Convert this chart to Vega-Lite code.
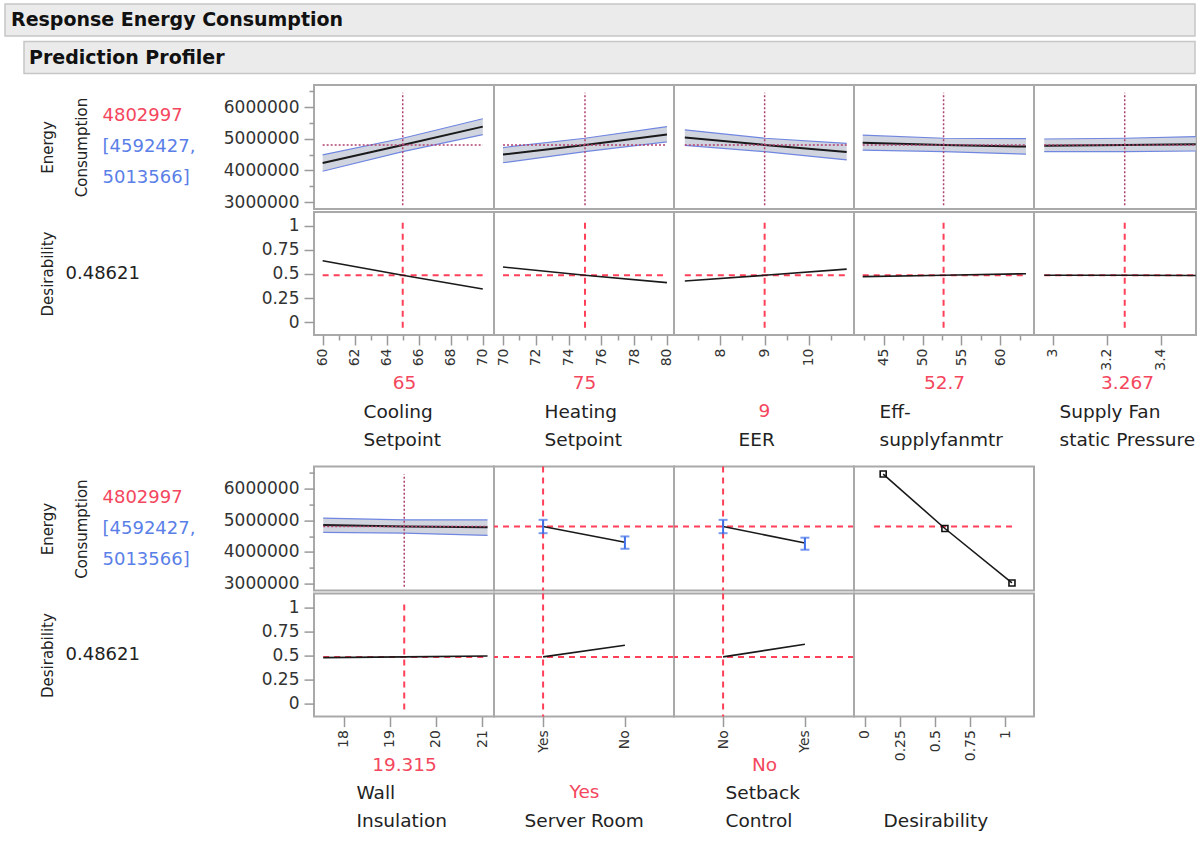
{
"$schema": "https://vega.github.io/schema/vega-lite/v6.json",
"padding": {"left": 4, "top": 3, "right": 0, "bottom": 0},
"background": "white",
"spacing": 9,
"datasets": {
 "profile": [
  {"factor": "Cooling Setpoint", "x": 60, "energy": 4230000, "lo": 3970000, "hi": 4490000, "desir": 0.637},
  {"factor": "Cooling Setpoint", "x": 65, "energy": 4802997, "lo": 4592427, "hi": 5013566, "desir": 0.48621},
  {"factor": "Cooling Setpoint", "x": 70, "energy": 5380000, "lo": 5130000, "hi": 5630000, "desir": 0.344},
  {"factor": "Heating Setpoint", "x": 70, "energy": 4500000, "lo": 4240000, "hi": 4720000, "desir": 0.572},
  {"factor": "Heating Setpoint", "x": 75, "energy": 4802997, "lo": 4592427, "hi": 5013566, "desir": 0.48621},
  {"factor": "Heating Setpoint", "x": 80, "energy": 5130000, "lo": 4900000, "hi": 5380000, "desir": 0.41},
  {"factor": "EER", "x": 7.2, "energy": 5040000, "lo": 4790000, "hi": 5280000, "desir": 0.427},
  {"factor": "EER", "x": 9, "energy": 4802997, "lo": 4592427, "hi": 5013566, "desir": 0.48621},
  {"factor": "EER", "x": 10.85, "energy": 4580000, "lo": 4330000, "hi": 4850000, "desir": 0.551},
  {"factor": "Eff-supplyfanmtr", "x": 42.3, "energy": 4870000, "lo": 4640000, "hi": 5110000, "desir": 0.472},
  {"factor": "Eff-supplyfanmtr", "x": 52.7, "energy": 4802997, "lo": 4592427, "hi": 5013566, "desir": 0.48621},
  {"factor": "Eff-supplyfanmtr", "x": 63.3, "energy": 4750000, "lo": 4510000, "hi": 5000000, "desir": 0.503},
  {"factor": "Supply Fan static Pressure", "x": 2.969, "energy": 4780000, "lo": 4590000, "hi": 4990000, "desir": 0.487},
  {"factor": "Supply Fan static Pressure", "x": 3.267, "energy": 4802997, "lo": 4592427, "hi": 5013566, "desir": 0.48621},
  {"factor": "Supply Fan static Pressure", "x": 3.53, "energy": 4825000, "lo": 4610000, "hi": 5065000, "desir": 0.484},
  {"factor": "Wall Insulation", "x": 17.56, "energy": 4850000, "lo": 4620000, "hi": 5070000, "desir": 0.479},
  {"factor": "Wall Insulation", "x": 19.315, "energy": 4802997, "lo": 4592427, "hi": 5013566, "desir": 0.48621},
  {"factor": "Wall Insulation", "x": 21.12, "energy": 4780000, "lo": 4520000, "hi": 5010000, "desir": 0.496}
 ],
 "cat": [
  {"factor": "Server Room", "level": "Yes", "energy": 4802997, "lo": 4592427, "hi": 5013566, "desir": 0.48621},
  {"factor": "Server Room", "level": "No", "energy": 4307000, "lo": 4100000, "hi": 4490000, "desir": 0.607},
  {"factor": "Setback Control", "level": "No", "energy": 4802997, "lo": 4592427, "hi": 5013566, "desir": 0.48621},
  {"factor": "Setback Control", "level": "Yes", "energy": 4280000, "lo": 4070000, "hi": 4450000, "desir": 0.618}
 ],
 "current": [
  {"factor": "Cooling Setpoint", "x": 65, "xmin": 60, "xmax": 70, "energy": 4802997, "desir": 0.48621},
  {"factor": "Heating Setpoint", "x": 75, "xmin": 70, "xmax": 80, "energy": 4802997, "desir": 0.48621},
  {"factor": "EER", "x": 9, "xmin": 7.2, "xmax": 10.85, "energy": 4802997, "desir": 0.48621},
  {"factor": "Eff-supplyfanmtr", "x": 52.7, "xmin": 42.3, "xmax": 63.3, "energy": 4802997, "desir": 0.48621},
  {"factor": "Supply Fan static Pressure", "x": 3.267, "xmin": 2.969, "xmax": 3.53, "energy": 4802997, "desir": 0.48621},
  {"factor": "Wall Insulation", "x": 19.315, "xmin": 17.56, "xmax": 21.12, "energy": 4802997, "desir": 0.48621},
  {"factor": "Server Room", "level": "Yes", "energy": 4802997, "desir": 0.48621},
  {"factor": "Setback Control", "level": "No", "energy": 4802997, "desir": 0.48621},
  {"factor": "Desirability", "xmin": 0.065, "xmax": 1.055, "energy": 4802997}
 ],
 "dfun": [
  {"d": 0.13, "energy": 6460000},
  {"d": 0.57, "energy": 4740000},
  {"d": 1.048, "energy": 3020000}
 ],
 "predlines": [
  {"line": "4802997", "kind": "Prediction"},
  {"line": "[4592427,", "kind": "Interval"},
  {"line": "5013566]", "kind": "Interval"}
 ],
 "desirline": [{"line": "0.48621"}]
},
"vconcat": [
 {"spacing": 3.5, "vconcat": [
  {"width": 1190, "height": 32, "data": {"values": [{"label": "Response Energy Consumption"}]},
   "view": {"fill": "#ebebeb", "stroke": "#c6c6c6", "strokeWidth": 1.5},
   "mark": {"type": "text", "align": "left", "baseline": "middle", "fontSize": 19, "fontWeight": "bold", "color": "#111111", "dx": 6},
   "encoding": {"text": {"field": "label"}, "x": {"datum": 0, "type": "quantitative", "scale": {"domain": [0, 1]}, "axis": null}}},
  {"bounds": "flush", "spacing": 0, "hconcat": [
   {"width": 19, "height": 32, "data": {"values": []}, "view": {"stroke": null}, "mark": "text", "encoding": {}},
   {"width": 1171, "height": 32, "data": {"values": [{"label": "Prediction Profiler"}]},
    "view": {"fill": "#ebebeb", "stroke": "#c6c6c6", "strokeWidth": 1.5},
    "mark": {"type": "text", "align": "left", "baseline": "middle", "fontSize": 19, "fontWeight": "bold", "color": "#111111", "dx": 5},
    "encoding": {"text": {"field": "label"}, "x": {"datum": 0, "type": "quantitative", "scale": {"domain": [0, 1]}, "axis": null}}}
  ]}
 ]},
 {"spacing": 14.6, "vconcat": [
  {"spacing": -2, "vconcat": [
   {"bounds": "flush", "spacing": 0, "hconcat": [
    {"width": 309, "height": 124, "view": {"stroke": null}, "data": {"name": "predlines"},
     "mark": {"type": "text", "align": "left", "baseline": "middle", "fontSize": 18, "dx": -57},
     "encoding": {"y": {"field": "line", "type": "nominal", "sort": null, "scale": {"type": "point", "padding": 1.32}, "axis": null},
      "text": {"field": "line"},
      "color": {"field": "kind", "type": "nominal", "scale": {"domain": ["Prediction", "Interval"], "range": ["#f4475e", "#5b7fe8"]}, "legend": null}}},
    {"width": 180, "height": 124, "resolve": {"axis": {"y": "independent"}}, "layer": [
     {"data": {"name": "profile"}, "transform": [{"filter": "datum.factor == 'Cooling Setpoint'"}],
      "mark": {"type": "area", "color": "#d0d4de"},
      "encoding": {"x": {"field": "x", "type": "quantitative", "scale": {"domain": [59.46, 70.7], "nice": false, "zero": false}, "axis": null},
       "y": {"field": "lo", "type": "quantitative", "scale": {"domain": [2779000, 6695000], "nice": false, "zero": false},
        "axis": {"orient": "left", "values": [3000000, 4000000, 5000000, 6000000], "format": "d", "title": ["Energy", "Consumption"], "titleX": -262, "titleY": 62}},
       "y2": {"field": "hi"}}},
     {"data": {"name": "profile"}, "transform": [{"filter": "datum.factor == 'Cooling Setpoint'"}],
      "mark": {"type": "line", "color": "#7086e0", "strokeWidth": 1.2},
      "encoding": {"x": {"field": "x", "type": "quantitative", "scale": {"domain": [59.46, 70.7], "nice": false, "zero": false}, "axis": null},
       "y": {"field": "lo", "type": "quantitative", "scale": {"domain": [2779000, 6695000], "nice": false, "zero": false}, "axis": null}}},
     {"data": {"name": "profile"}, "transform": [{"filter": "datum.factor == 'Cooling Setpoint'"}],
      "mark": {"type": "line", "color": "#7086e0", "strokeWidth": 1.2},
      "encoding": {"x": {"field": "x", "type": "quantitative", "scale": {"domain": [59.46, 70.7], "nice": false, "zero": false}, "axis": null},
       "y": {"field": "hi", "type": "quantitative", "scale": {"domain": [2779000, 6695000], "nice": false, "zero": false}, "axis": null}}},
     {"data": {"name": "profile"}, "transform": [{"filter": "datum.factor == 'Cooling Setpoint'"}],
      "mark": {"type": "line", "color": "#1a1a1a", "strokeWidth": 2},
      "encoding": {"x": {"field": "x", "type": "quantitative", "scale": {"domain": [59.46, 70.7], "nice": false, "zero": false}, "axis": null},
       "y": {"field": "energy", "type": "quantitative", "scale": {"domain": [2779000, 6695000], "nice": false, "zero": false}, "axis": null}}},
     {"data": {"name": "current"}, "transform": [{"filter": "datum.factor == 'Cooling Setpoint'"}],
      "mark": {"type": "rule", "color": "#b0406e", "strokeWidth": 1.5, "strokeDash": [2, 2]},
      "encoding": {"x": {"field": "xmin", "type": "quantitative", "scale": {"domain": [59.46, 70.7], "nice": false, "zero": false}, "axis": null}, "x2": {"field": "xmax"},
       "y": {"field": "energy", "type": "quantitative", "scale": {"domain": [2779000, 6695000], "nice": false, "zero": false}, "axis": null}}},
     {"data": {"name": "current"}, "transform": [{"filter": "datum.factor == 'Cooling Setpoint'"}],
      "mark": {"type": "rule", "color": "#b0406e", "strokeWidth": 1.5, "strokeDash": [2, 2]},
      "encoding": {"x": {"field": "x", "type": "quantitative", "scale": {"domain": [59.46, 70.7], "nice": false, "zero": false}, "axis": null},
       "y": {"datum": 2900000, "type": "quantitative", "scale": {"domain": [2779000, 6695000], "nice": false, "zero": false},
        "axis": {"orient": "left", "values": [3500000, 4500000, 5500000, 6500000], "labels": false, "tickSize": 5, "title": null}},
       "y2": {"datum": 6450000}}}
    ]},
    {"width": 180, "height": 124, "layer": [
     {"data": {"name": "profile"}, "transform": [{"filter": "datum.factor == 'Heating Setpoint'"}],
      "mark": {"type": "area", "color": "#d0d4de"},
      "encoding": {"x": {"field": "x", "type": "quantitative", "scale": {"domain": [69.45, 80.43], "nice": false, "zero": false}, "axis": null},
       "y": {"field": "lo", "type": "quantitative", "scale": {"domain": [2779000, 6695000], "nice": false, "zero": false}, "axis": null}, "y2": {"field": "hi"}}},
     {"data": {"name": "profile"}, "transform": [{"filter": "datum.factor == 'Heating Setpoint'"}],
      "mark": {"type": "line", "color": "#7086e0", "strokeWidth": 1.2},
      "encoding": {"x": {"field": "x", "type": "quantitative", "scale": {"domain": [69.45, 80.43], "nice": false, "zero": false}, "axis": null},
       "y": {"field": "lo", "type": "quantitative", "scale": {"domain": [2779000, 6695000], "nice": false, "zero": false}, "axis": null}}},
     {"data": {"name": "profile"}, "transform": [{"filter": "datum.factor == 'Heating Setpoint'"}],
      "mark": {"type": "line", "color": "#7086e0", "strokeWidth": 1.2},
      "encoding": {"x": {"field": "x", "type": "quantitative", "scale": {"domain": [69.45, 80.43], "nice": false, "zero": false}, "axis": null},
       "y": {"field": "hi", "type": "quantitative", "scale": {"domain": [2779000, 6695000], "nice": false, "zero": false}, "axis": null}}},
     {"data": {"name": "profile"}, "transform": [{"filter": "datum.factor == 'Heating Setpoint'"}],
      "mark": {"type": "line", "color": "#1a1a1a", "strokeWidth": 2},
      "encoding": {"x": {"field": "x", "type": "quantitative", "scale": {"domain": [69.45, 80.43], "nice": false, "zero": false}, "axis": null},
       "y": {"field": "energy", "type": "quantitative", "scale": {"domain": [2779000, 6695000], "nice": false, "zero": false}, "axis": null}}},
     {"data": {"name": "current"}, "transform": [{"filter": "datum.factor == 'Heating Setpoint'"}],
      "mark": {"type": "rule", "color": "#b0406e", "strokeWidth": 1.5, "strokeDash": [2, 2]},
      "encoding": {"x": {"field": "xmin", "type": "quantitative", "scale": {"domain": [69.45, 80.43], "nice": false, "zero": false}, "axis": null}, "x2": {"field": "xmax"},
       "y": {"field": "energy", "type": "quantitative", "scale": {"domain": [2779000, 6695000], "nice": false, "zero": false}, "axis": null}}},
     {"data": {"name": "current"}, "transform": [{"filter": "datum.factor == 'Heating Setpoint'"}],
      "mark": {"type": "rule", "color": "#b0406e", "strokeWidth": 1.5, "strokeDash": [2, 2]},
      "encoding": {"x": {"field": "x", "type": "quantitative", "scale": {"domain": [69.45, 80.43], "nice": false, "zero": false}, "axis": null},
       "y": {"datum": 2900000, "type": "quantitative", "scale": {"domain": [2779000, 6695000], "nice": false, "zero": false}, "axis": null}, "y2": {"datum": 6450000}}}
    ]},
    {"width": 180, "height": 124, "layer": [
     {"data": {"name": "profile"}, "transform": [{"filter": "datum.factor == 'EER'"}],
      "mark": {"type": "area", "color": "#d0d4de"},
      "encoding": {"x": {"field": "x", "type": "quantitative", "scale": {"domain": [6.956, 11.015], "nice": false, "zero": false}, "axis": null},
       "y": {"field": "lo", "type": "quantitative", "scale": {"domain": [2779000, 6695000], "nice": false, "zero": false}, "axis": null}, "y2": {"field": "hi"}}},
     {"data": {"name": "profile"}, "transform": [{"filter": "datum.factor == 'EER'"}],
      "mark": {"type": "line", "color": "#7086e0", "strokeWidth": 1.2},
      "encoding": {"x": {"field": "x", "type": "quantitative", "scale": {"domain": [6.956, 11.015], "nice": false, "zero": false}, "axis": null},
       "y": {"field": "lo", "type": "quantitative", "scale": {"domain": [2779000, 6695000], "nice": false, "zero": false}, "axis": null}}},
     {"data": {"name": "profile"}, "transform": [{"filter": "datum.factor == 'EER'"}],
      "mark": {"type": "line", "color": "#7086e0", "strokeWidth": 1.2},
      "encoding": {"x": {"field": "x", "type": "quantitative", "scale": {"domain": [6.956, 11.015], "nice": false, "zero": false}, "axis": null},
       "y": {"field": "hi", "type": "quantitative", "scale": {"domain": [2779000, 6695000], "nice": false, "zero": false}, "axis": null}}},
     {"data": {"name": "profile"}, "transform": [{"filter": "datum.factor == 'EER'"}],
      "mark": {"type": "line", "color": "#1a1a1a", "strokeWidth": 2},
      "encoding": {"x": {"field": "x", "type": "quantitative", "scale": {"domain": [6.956, 11.015], "nice": false, "zero": false}, "axis": null},
       "y": {"field": "energy", "type": "quantitative", "scale": {"domain": [2779000, 6695000], "nice": false, "zero": false}, "axis": null}}},
     {"data": {"name": "current"}, "transform": [{"filter": "datum.factor == 'EER'"}],
      "mark": {"type": "rule", "color": "#b0406e", "strokeWidth": 1.5, "strokeDash": [2, 2]},
      "encoding": {"x": {"field": "xmin", "type": "quantitative", "scale": {"domain": [6.956, 11.015], "nice": false, "zero": false}, "axis": null}, "x2": {"field": "xmax"},
       "y": {"field": "energy", "type": "quantitative", "scale": {"domain": [2779000, 6695000], "nice": false, "zero": false}, "axis": null}}},
     {"data": {"name": "current"}, "transform": [{"filter": "datum.factor == 'EER'"}],
      "mark": {"type": "rule", "color": "#b0406e", "strokeWidth": 1.5, "strokeDash": [2, 2]},
      "encoding": {"x": {"field": "x", "type": "quantitative", "scale": {"domain": [6.956, 11.015], "nice": false, "zero": false}, "axis": null},
       "y": {"datum": 2900000, "type": "quantitative", "scale": {"domain": [2779000, 6695000], "nice": false, "zero": false}, "axis": null}, "y2": {"datum": 6450000}}}
    ]},
    {"width": 180, "height": 124, "layer": [
     {"data": {"name": "profile"}, "transform": [{"filter": "datum.factor == 'Eff-supplyfanmtr'"}],
      "mark": {"type": "area", "color": "#d0d4de"},
      "encoding": {"x": {"field": "x", "type": "quantitative", "scale": {"domain": [41.18, 64.33], "nice": false, "zero": false}, "axis": null},
       "y": {"field": "lo", "type": "quantitative", "scale": {"domain": [2779000, 6695000], "nice": false, "zero": false}, "axis": null}, "y2": {"field": "hi"}}},
     {"data": {"name": "profile"}, "transform": [{"filter": "datum.factor == 'Eff-supplyfanmtr'"}],
      "mark": {"type": "line", "color": "#7086e0", "strokeWidth": 1.2},
      "encoding": {"x": {"field": "x", "type": "quantitative", "scale": {"domain": [41.18, 64.33], "nice": false, "zero": false}, "axis": null},
       "y": {"field": "lo", "type": "quantitative", "scale": {"domain": [2779000, 6695000], "nice": false, "zero": false}, "axis": null}}},
     {"data": {"name": "profile"}, "transform": [{"filter": "datum.factor == 'Eff-supplyfanmtr'"}],
      "mark": {"type": "line", "color": "#7086e0", "strokeWidth": 1.2},
      "encoding": {"x": {"field": "x", "type": "quantitative", "scale": {"domain": [41.18, 64.33], "nice": false, "zero": false}, "axis": null},
       "y": {"field": "hi", "type": "quantitative", "scale": {"domain": [2779000, 6695000], "nice": false, "zero": false}, "axis": null}}},
     {"data": {"name": "profile"}, "transform": [{"filter": "datum.factor == 'Eff-supplyfanmtr'"}],
      "mark": {"type": "line", "color": "#1a1a1a", "strokeWidth": 2},
      "encoding": {"x": {"field": "x", "type": "quantitative", "scale": {"domain": [41.18, 64.33], "nice": false, "zero": false}, "axis": null},
       "y": {"field": "energy", "type": "quantitative", "scale": {"domain": [2779000, 6695000], "nice": false, "zero": false}, "axis": null}}},
     {"data": {"name": "current"}, "transform": [{"filter": "datum.factor == 'Eff-supplyfanmtr'"}],
      "mark": {"type": "rule", "color": "#b0406e", "strokeWidth": 1.5, "strokeDash": [2, 2]},
      "encoding": {"x": {"field": "xmin", "type": "quantitative", "scale": {"domain": [41.18, 64.33], "nice": false, "zero": false}, "axis": null}, "x2": {"field": "xmax"},
       "y": {"field": "energy", "type": "quantitative", "scale": {"domain": [2779000, 6695000], "nice": false, "zero": false}, "axis": null}}},
     {"data": {"name": "current"}, "transform": [{"filter": "datum.factor == 'Eff-supplyfanmtr'"}],
      "mark": {"type": "rule", "color": "#b0406e", "strokeWidth": 1.5, "strokeDash": [2, 2]},
      "encoding": {"x": {"field": "x", "type": "quantitative", "scale": {"domain": [41.18, 64.33], "nice": false, "zero": false}, "axis": null},
       "y": {"datum": 2900000, "type": "quantitative", "scale": {"domain": [2779000, 6695000], "nice": false, "zero": false}, "axis": null}, "y2": {"datum": 6450000}}}
    ]},
    {"width": 162, "height": 124, "layer": [
     {"data": {"name": "profile"}, "transform": [{"filter": "datum.factor == 'Supply Fan static Pressure'"}],
      "mark": {"type": "area", "color": "#d0d4de"},
      "encoding": {"x": {"field": "x", "type": "quantitative", "scale": {"domain": [2.931, 3.531], "nice": false, "zero": false}, "axis": null},
       "y": {"field": "lo", "type": "quantitative", "scale": {"domain": [2779000, 6695000], "nice": false, "zero": false}, "axis": null}, "y2": {"field": "hi"}}},
     {"data": {"name": "profile"}, "transform": [{"filter": "datum.factor == 'Supply Fan static Pressure'"}],
      "mark": {"type": "line", "color": "#7086e0", "strokeWidth": 1.2},
      "encoding": {"x": {"field": "x", "type": "quantitative", "scale": {"domain": [2.931, 3.531], "nice": false, "zero": false}, "axis": null},
       "y": {"field": "lo", "type": "quantitative", "scale": {"domain": [2779000, 6695000], "nice": false, "zero": false}, "axis": null}}},
     {"data": {"name": "profile"}, "transform": [{"filter": "datum.factor == 'Supply Fan static Pressure'"}],
      "mark": {"type": "line", "color": "#7086e0", "strokeWidth": 1.2},
      "encoding": {"x": {"field": "x", "type": "quantitative", "scale": {"domain": [2.931, 3.531], "nice": false, "zero": false}, "axis": null},
       "y": {"field": "hi", "type": "quantitative", "scale": {"domain": [2779000, 6695000], "nice": false, "zero": false}, "axis": null}}},
     {"data": {"name": "profile"}, "transform": [{"filter": "datum.factor == 'Supply Fan static Pressure'"}],
      "mark": {"type": "line", "color": "#1a1a1a", "strokeWidth": 2},
      "encoding": {"x": {"field": "x", "type": "quantitative", "scale": {"domain": [2.931, 3.531], "nice": false, "zero": false}, "axis": null},
       "y": {"field": "energy", "type": "quantitative", "scale": {"domain": [2779000, 6695000], "nice": false, "zero": false}, "axis": null}}},
     {"data": {"name": "current"}, "transform": [{"filter": "datum.factor == 'Supply Fan static Pressure'"}],
      "mark": {"type": "rule", "color": "#b0406e", "strokeWidth": 1.5, "strokeDash": [2, 2]},
      "encoding": {"x": {"field": "xmin", "type": "quantitative", "scale": {"domain": [2.931, 3.531], "nice": false, "zero": false}, "axis": null}, "x2": {"field": "xmax"},
       "y": {"field": "energy", "type": "quantitative", "scale": {"domain": [2779000, 6695000], "nice": false, "zero": false}, "axis": null}}},
     {"data": {"name": "current"}, "transform": [{"filter": "datum.factor == 'Supply Fan static Pressure'"}],
      "mark": {"type": "rule", "color": "#b0406e", "strokeWidth": 1.5, "strokeDash": [2, 2]},
      "encoding": {"x": {"field": "x", "type": "quantitative", "scale": {"domain": [2.931, 3.531], "nice": false, "zero": false}, "axis": null},
       "y": {"datum": 2900000, "type": "quantitative", "scale": {"domain": [2779000, 6695000], "nice": false, "zero": false}, "axis": null}, "y2": {"datum": 6450000}}}
    ]}
   ]},
   {"bounds": "flush", "spacing": 0, "hconcat": [
    {"width": 309, "height": 123, "view": {"stroke": null}, "data": {"name": "desirline"},
     "mark": {"type": "text", "align": "left", "baseline": "middle", "fontSize": 18, "dx": -94, "color": "#222222"},
     "encoding": {"text": {"field": "line"}}},
    {"width": 180, "height": 123, "resolve": {"axis": {"x": "independent", "y": "independent"}}, "layer": [
     {"data": {"name": "current"}, "transform": [{"filter": "datum.factor == 'Cooling Setpoint'"}],
      "mark": {"type": "rule", "color": "#ff4058", "strokeWidth": 2, "strokeDash": [6, 5]},
      "encoding": {"x": {"field": "xmin", "type": "quantitative", "scale": {"domain": [59.46, 70.7], "nice": false, "zero": false}, "axis": null}, "x2": {"field": "xmax"},
       "y": {"field": "desir", "type": "quantitative", "scale": {"domain": [-0.135, 1.145], "nice": false, "zero": false}, "axis": null}}},
     {"data": {"name": "current"}, "transform": [{"filter": "datum.factor == 'Cooling Setpoint'"}],
      "mark": {"type": "rule", "color": "#ff4058", "strokeWidth": 2, "strokeDash": [6, 5]},
      "encoding": {"x": {"field": "x", "type": "quantitative", "scale": {"domain": [59.46, 70.7], "nice": false, "zero": false},
        "axis": {"orient": "bottom", "values": [61, 63, 65, 67, 69], "labels": false, "tickSize": 5, "title": "65", "titleColor": "#f4475e", "titleY": 38.5}},
       "y": {"datum": -0.06, "type": "quantitative", "scale": {"domain": [-0.135, 1.145], "nice": false, "zero": false}, "axis": null}, "y2": {"datum": 1.04}}},
     {"data": {"name": "profile"}, "transform": [{"filter": "datum.factor == 'Cooling Setpoint'"}],
      "mark": {"type": "line", "color": "#1a1a1a", "strokeWidth": 1.6},
      "encoding": {"x": {"field": "x", "type": "quantitative", "scale": {"domain": [59.46, 70.7], "nice": false, "zero": false},
        "axis": {"orient": "bottom", "values": [60, 62, 64, 66, 68, 70], "labelExpr": "datum.value + ''", "title": ["Cooling", "Setpoint"], "titleAlign": "left", "titleX": 49, "titleY": 67}},
       "y": {"field": "desir", "type": "quantitative", "scale": {"domain": [-0.135, 1.145], "nice": false, "zero": false},
        "axis": {"orient": "left", "values": [0, 0.25, 0.5, 0.75, 1], "labelExpr": "datum.value + ''", "title": "Desirability", "titleX": -262, "titleY": 61.5}}}}
    ]},
    {"width": 180, "height": 123, "resolve": {"axis": {"x": "independent"}}, "layer": [
     {"data": {"name": "current"}, "transform": [{"filter": "datum.factor == 'Heating Setpoint'"}],
      "mark": {"type": "rule", "color": "#ff4058", "strokeWidth": 2, "strokeDash": [6, 5]},
      "encoding": {"x": {"field": "xmin", "type": "quantitative", "scale": {"domain": [69.45, 80.43], "nice": false, "zero": false}, "axis": null}, "x2": {"field": "xmax"},
       "y": {"field": "desir", "type": "quantitative", "scale": {"domain": [-0.135, 1.145], "nice": false, "zero": false}, "axis": null}}},
     {"data": {"name": "current"}, "transform": [{"filter": "datum.factor == 'Heating Setpoint'"}],
      "mark": {"type": "rule", "color": "#ff4058", "strokeWidth": 2, "strokeDash": [6, 5]},
      "encoding": {"x": {"field": "x", "type": "quantitative", "scale": {"domain": [69.45, 80.43], "nice": false, "zero": false},
        "axis": {"orient": "bottom", "values": [71, 73, 75, 77, 79], "labels": false, "tickSize": 5, "title": "75", "titleColor": "#f4475e", "titleY": 38.5}},
       "y": {"datum": -0.06, "type": "quantitative", "scale": {"domain": [-0.135, 1.145], "nice": false, "zero": false}, "axis": null}, "y2": {"datum": 1.04}}},
     {"data": {"name": "profile"}, "transform": [{"filter": "datum.factor == 'Heating Setpoint'"}],
      "mark": {"type": "line", "color": "#1a1a1a", "strokeWidth": 1.6},
      "encoding": {"x": {"field": "x", "type": "quantitative", "scale": {"domain": [69.45, 80.43], "nice": false, "zero": false},
        "axis": {"orient": "bottom", "values": [70, 72, 74, 76, 78, 80], "labelExpr": "datum.value + ''", "title": ["Heating", "Setpoint"], "titleAlign": "left", "titleX": 50, "titleY": 67}},
       "y": {"field": "desir", "type": "quantitative", "scale": {"domain": [-0.135, 1.145], "nice": false, "zero": false}, "axis": null}}}
    ]},
    {"width": 180, "height": 123, "resolve": {"axis": {"x": "independent"}}, "layer": [
     {"data": {"name": "current"}, "transform": [{"filter": "datum.factor == 'EER'"}],
      "mark": {"type": "rule", "color": "#ff4058", "strokeWidth": 2, "strokeDash": [6, 5]},
      "encoding": {"x": {"field": "xmin", "type": "quantitative", "scale": {"domain": [6.956, 11.015], "nice": false, "zero": false}, "axis": null}, "x2": {"field": "xmax"},
       "y": {"field": "desir", "type": "quantitative", "scale": {"domain": [-0.135, 1.145], "nice": false, "zero": false}, "axis": null}}},
     {"data": {"name": "current"}, "transform": [{"filter": "datum.factor == 'EER'"}],
      "mark": {"type": "rule", "color": "#ff4058", "strokeWidth": 2, "strokeDash": [6, 5]},
      "encoding": {"x": {"field": "x", "type": "quantitative", "scale": {"domain": [6.956, 11.015], "nice": false, "zero": false},
        "axis": {"orient": "bottom", "values": [7.5, 8.5, 9.5, 10.5], "labels": false, "tickSize": 5, "title": "9", "titleColor": "#f4475e", "titleY": 66}},
       "y": {"datum": -0.06, "type": "quantitative", "scale": {"domain": [-0.135, 1.145], "nice": false, "zero": false}, "axis": null}, "y2": {"datum": 1.04}}},
     {"data": {"name": "profile"}, "transform": [{"filter": "datum.factor == 'EER'"}],
      "mark": {"type": "line", "color": "#1a1a1a", "strokeWidth": 1.6},
      "encoding": {"x": {"field": "x", "type": "quantitative", "scale": {"domain": [6.956, 11.015], "nice": false, "zero": false},
        "axis": {"orient": "bottom", "values": [8, 9, 10], "labelExpr": "datum.value + ''", "title": ["EER"], "titleAlign": "left", "titleX": 64, "titleY": 95}},
       "y": {"field": "desir", "type": "quantitative", "scale": {"domain": [-0.135, 1.145], "nice": false, "zero": false}, "axis": null}}}
    ]},
    {"width": 180, "height": 123, "resolve": {"axis": {"x": "independent"}}, "layer": [
     {"data": {"name": "current"}, "transform": [{"filter": "datum.factor == 'Eff-supplyfanmtr'"}],
      "mark": {"type": "rule", "color": "#ff4058", "strokeWidth": 2, "strokeDash": [6, 5]},
      "encoding": {"x": {"field": "xmin", "type": "quantitative", "scale": {"domain": [41.18, 64.33], "nice": false, "zero": false}, "axis": null}, "x2": {"field": "xmax"},
       "y": {"field": "desir", "type": "quantitative", "scale": {"domain": [-0.135, 1.145], "nice": false, "zero": false}, "axis": null}}},
     {"data": {"name": "current"}, "transform": [{"filter": "datum.factor == 'Eff-supplyfanmtr'"}],
      "mark": {"type": "rule", "color": "#ff4058", "strokeWidth": 2, "strokeDash": [6, 5]},
      "encoding": {"x": {"field": "x", "type": "quantitative", "scale": {"domain": [41.18, 64.33], "nice": false, "zero": false},
        "axis": {"orient": "bottom", "values": [42.5, 47.5, 52.5, 57.5, 62.5], "labels": false, "tickSize": 5, "title": "52.7", "titleColor": "#f4475e", "titleY": 38.5}},
       "y": {"datum": -0.06, "type": "quantitative", "scale": {"domain": [-0.135, 1.145], "nice": false, "zero": false}, "axis": null}, "y2": {"datum": 1.04}}},
     {"data": {"name": "profile"}, "transform": [{"filter": "datum.factor == 'Eff-supplyfanmtr'"}],
      "mark": {"type": "line", "color": "#1a1a1a", "strokeWidth": 1.6},
      "encoding": {"x": {"field": "x", "type": "quantitative", "scale": {"domain": [41.18, 64.33], "nice": false, "zero": false},
        "axis": {"orient": "bottom", "values": [45, 50, 55, 60], "labelExpr": "datum.value + ''", "title": ["Eff-", "supplyfanmtr"], "titleAlign": "left", "titleX": 25, "titleY": 67}},
       "y": {"field": "desir", "type": "quantitative", "scale": {"domain": [-0.135, 1.145], "nice": false, "zero": false}, "axis": null}}}
    ]},
    {"width": 162, "height": 123, "resolve": {"axis": {"x": "independent"}}, "layer": [
     {"data": {"name": "current"}, "transform": [{"filter": "datum.factor == 'Supply Fan static Pressure'"}],
      "mark": {"type": "rule", "color": "#ff4058", "strokeWidth": 2, "strokeDash": [6, 5]},
      "encoding": {"x": {"field": "xmin", "type": "quantitative", "scale": {"domain": [2.931, 3.531], "nice": false, "zero": false}, "axis": null}, "x2": {"field": "xmax"},
       "y": {"field": "desir", "type": "quantitative", "scale": {"domain": [-0.135, 1.145], "nice": false, "zero": false}, "axis": null}}},
     {"data": {"name": "current"}, "transform": [{"filter": "datum.factor == 'Supply Fan static Pressure'"}],
      "mark": {"type": "rule", "color": "#ff4058", "strokeWidth": 2, "strokeDash": [6, 5]},
      "encoding": {"x": {"field": "x", "type": "quantitative", "scale": {"domain": [2.931, 3.531], "nice": false, "zero": false},
        "axis": {"orient": "bottom", "ticks": false, "labels": false, "title": "3.267", "titleColor": "#f4475e", "titleX": 93, "titleY": 38.5}},
       "y": {"datum": -0.06, "type": "quantitative", "scale": {"domain": [-0.135, 1.145], "nice": false, "zero": false}, "axis": null}, "y2": {"datum": 1.04}}},
     {"data": {"name": "profile"}, "transform": [{"filter": "datum.factor == 'Supply Fan static Pressure'"}],
      "mark": {"type": "line", "color": "#1a1a1a", "strokeWidth": 1.6},
      "encoding": {"x": {"field": "x", "type": "quantitative", "scale": {"domain": [2.931, 3.531], "nice": false, "zero": false},
        "axis": {"orient": "bottom", "values": [3, 3.2, 3.4], "labelExpr": "datum.value + ''", "title": ["Supply Fan", "static Pressure"], "titleAlign": "left", "titleX": 25, "titleY": 67}},
       "y": {"field": "desir", "type": "quantitative", "scale": {"domain": [-0.135, 1.145], "nice": false, "zero": false}, "axis": null}}}
    ]}
   ]}
  ]},
  {"spacing": -2, "vconcat": [
   {"bounds": "flush", "spacing": 0, "hconcat": [
    {"width": 309, "height": 124, "view": {"stroke": null}, "data": {"name": "predlines"},
     "mark": {"type": "text", "align": "left", "baseline": "middle", "fontSize": 18, "dx": -57},
     "encoding": {"y": {"field": "line", "type": "nominal", "sort": null, "scale": {"type": "point", "padding": 1.32}, "axis": null},
      "text": {"field": "line"},
      "color": {"field": "kind", "type": "nominal", "scale": {"domain": ["Prediction", "Interval"], "range": ["#f4475e", "#5b7fe8"]}, "legend": null}}},
    {"width": 180, "height": 124, "resolve": {"axis": {"y": "independent"}}, "layer": [
     {"data": {"name": "profile"}, "transform": [{"filter": "datum.factor == 'Wall Insulation'"}],
      "mark": {"type": "area", "color": "#d0d4de"},
      "encoding": {"x": {"field": "x", "type": "quantitative", "scale": {"domain": [17.36, 21.26], "nice": false, "zero": false}, "axis": null},
       "y": {"field": "lo", "type": "quantitative", "scale": {"domain": [2779000, 6695000], "nice": false, "zero": false},
        "axis": {"orient": "left", "values": [3000000, 4000000, 5000000, 6000000], "format": "d", "title": ["Energy", "Consumption"], "titleX": -262, "titleY": 62}},
       "y2": {"field": "hi"}}},
     {"data": {"name": "profile"}, "transform": [{"filter": "datum.factor == 'Wall Insulation'"}],
      "mark": {"type": "line", "color": "#7086e0", "strokeWidth": 1.2},
      "encoding": {"x": {"field": "x", "type": "quantitative", "scale": {"domain": [17.36, 21.26], "nice": false, "zero": false}, "axis": null},
       "y": {"field": "lo", "type": "quantitative", "scale": {"domain": [2779000, 6695000], "nice": false, "zero": false}, "axis": null}}},
     {"data": {"name": "profile"}, "transform": [{"filter": "datum.factor == 'Wall Insulation'"}],
      "mark": {"type": "line", "color": "#7086e0", "strokeWidth": 1.2},
      "encoding": {"x": {"field": "x", "type": "quantitative", "scale": {"domain": [17.36, 21.26], "nice": false, "zero": false}, "axis": null},
       "y": {"field": "hi", "type": "quantitative", "scale": {"domain": [2779000, 6695000], "nice": false, "zero": false}, "axis": null}}},
     {"data": {"name": "profile"}, "transform": [{"filter": "datum.factor == 'Wall Insulation'"}],
      "mark": {"type": "line", "color": "#1a1a1a", "strokeWidth": 2},
      "encoding": {"x": {"field": "x", "type": "quantitative", "scale": {"domain": [17.36, 21.26], "nice": false, "zero": false}, "axis": null},
       "y": {"field": "energy", "type": "quantitative", "scale": {"domain": [2779000, 6695000], "nice": false, "zero": false}, "axis": null}}},
     {"data": {"name": "current"}, "transform": [{"filter": "datum.factor == 'Wall Insulation'"}],
      "mark": {"type": "rule", "color": "#b0406e", "strokeWidth": 1.5, "strokeDash": [2, 2]},
      "encoding": {"x": {"field": "xmin", "type": "quantitative", "scale": {"domain": [17.36, 21.26], "nice": false, "zero": false}, "axis": null}, "x2": {"field": "xmax"},
       "y": {"field": "energy", "type": "quantitative", "scale": {"domain": [2779000, 6695000], "nice": false, "zero": false}, "axis": null}}},
     {"data": {"name": "current"}, "transform": [{"filter": "datum.factor == 'Wall Insulation'"}],
      "mark": {"type": "rule", "color": "#b0406e", "strokeWidth": 1.5, "strokeDash": [2, 2]},
      "encoding": {"x": {"field": "x", "type": "quantitative", "scale": {"domain": [17.36, 21.26], "nice": false, "zero": false}, "axis": null},
       "y": {"datum": 2900000, "type": "quantitative", "scale": {"domain": [2779000, 6695000], "nice": false, "zero": false},
        "axis": {"orient": "left", "values": [3500000, 4500000, 5500000, 6500000], "labels": false, "tickSize": 5, "title": null}},
       "y2": {"datum": 6450000}}}
    ]},
    {"width": 180, "height": 124, "layer": [
     {"data": {"name": "current"}, "transform": [{"filter": "datum.factor == 'Server Room'"}],
      "mark": {"type": "rule", "color": "#ff4058", "strokeWidth": 2, "strokeDash": [6, 5]},
      "encoding": {"y": {"field": "energy", "type": "quantitative", "scale": {"domain": [2779000, 6695000], "nice": false, "zero": false}, "axis": null}}},
     {"data": {"name": "current"}, "transform": [{"filter": "datum.factor == 'Server Room'"}],
      "mark": {"type": "rule", "color": "#ff4058", "strokeWidth": 2, "strokeDash": [6, 5]},
      "encoding": {"x": {"field": "level", "type": "nominal", "scale": {"type": "point", "domain": ["Yes", "No"], "padding": 0.6}, "axis": null}}},
     {"data": {"name": "cat"}, "transform": [{"filter": "datum.factor == 'Server Room'"}],
      "mark": {"type": "line", "color": "#1a1a1a", "strokeWidth": 1.6},
      "encoding": {"x": {"field": "level", "type": "nominal", "scale": {"type": "point", "domain": ["Yes", "No"], "padding": 0.6}, "axis": null},
       "y": {"field": "energy", "type": "quantitative", "scale": {"domain": [2779000, 6695000], "nice": false, "zero": false}, "axis": null}}},
     {"data": {"name": "cat"}, "transform": [{"filter": "datum.factor == 'Server Room'"}],
      "mark": {"type": "rule", "color": "#3d6fe8", "strokeWidth": 2},
      "encoding": {"x": {"field": "level", "type": "nominal", "scale": {"type": "point", "domain": ["Yes", "No"], "padding": 0.6}, "axis": null},
       "y": {"field": "lo", "type": "quantitative", "scale": {"domain": [2779000, 6695000], "nice": false, "zero": false}, "axis": null}, "y2": {"field": "hi"}}},
     {"data": {"name": "cat"}, "transform": [{"filter": "datum.factor == 'Server Room'"}],
      "mark": {"type": "tick", "color": "#3d6fe8", "size": 9, "thickness": 2},
      "encoding": {"x": {"field": "level", "type": "nominal", "scale": {"type": "point", "domain": ["Yes", "No"], "padding": 0.6}, "axis": null},
       "y": {"field": "lo", "type": "quantitative", "scale": {"domain": [2779000, 6695000], "nice": false, "zero": false}, "axis": null}}},
     {"data": {"name": "cat"}, "transform": [{"filter": "datum.factor == 'Server Room'"}],
      "mark": {"type": "tick", "color": "#3d6fe8", "size": 9, "thickness": 2},
      "encoding": {"x": {"field": "level", "type": "nominal", "scale": {"type": "point", "domain": ["Yes", "No"], "padding": 0.6}, "axis": null},
       "y": {"field": "hi", "type": "quantitative", "scale": {"domain": [2779000, 6695000], "nice": false, "zero": false}, "axis": null}}}
    ]},
    {"width": 180, "height": 124, "layer": [
     {"data": {"name": "current"}, "transform": [{"filter": "datum.factor == 'Setback Control'"}],
      "mark": {"type": "rule", "color": "#ff4058", "strokeWidth": 2, "strokeDash": [6, 5]},
      "encoding": {"y": {"field": "energy", "type": "quantitative", "scale": {"domain": [2779000, 6695000], "nice": false, "zero": false}, "axis": null}}},
     {"data": {"name": "current"}, "transform": [{"filter": "datum.factor == 'Setback Control'"}],
      "mark": {"type": "rule", "color": "#ff4058", "strokeWidth": 2, "strokeDash": [6, 5]},
      "encoding": {"x": {"field": "level", "type": "nominal", "scale": {"type": "point", "domain": ["No", "Yes"], "padding": 0.6}, "axis": null}}},
     {"data": {"name": "cat"}, "transform": [{"filter": "datum.factor == 'Setback Control'"}],
      "mark": {"type": "line", "color": "#1a1a1a", "strokeWidth": 1.6},
      "encoding": {"x": {"field": "level", "type": "nominal", "scale": {"type": "point", "domain": ["No", "Yes"], "padding": 0.6}, "axis": null},
       "y": {"field": "energy", "type": "quantitative", "scale": {"domain": [2779000, 6695000], "nice": false, "zero": false}, "axis": null}}},
     {"data": {"name": "cat"}, "transform": [{"filter": "datum.factor == 'Setback Control'"}],
      "mark": {"type": "rule", "color": "#3d6fe8", "strokeWidth": 2},
      "encoding": {"x": {"field": "level", "type": "nominal", "scale": {"type": "point", "domain": ["No", "Yes"], "padding": 0.6}, "axis": null},
       "y": {"field": "lo", "type": "quantitative", "scale": {"domain": [2779000, 6695000], "nice": false, "zero": false}, "axis": null}, "y2": {"field": "hi"}}},
     {"data": {"name": "cat"}, "transform": [{"filter": "datum.factor == 'Setback Control'"}],
      "mark": {"type": "tick", "color": "#3d6fe8", "size": 9, "thickness": 2},
      "encoding": {"x": {"field": "level", "type": "nominal", "scale": {"type": "point", "domain": ["No", "Yes"], "padding": 0.6}, "axis": null},
       "y": {"field": "lo", "type": "quantitative", "scale": {"domain": [2779000, 6695000], "nice": false, "zero": false}, "axis": null}}},
     {"data": {"name": "cat"}, "transform": [{"filter": "datum.factor == 'Setback Control'"}],
      "mark": {"type": "tick", "color": "#3d6fe8", "size": 9, "thickness": 2},
      "encoding": {"x": {"field": "level", "type": "nominal", "scale": {"type": "point", "domain": ["No", "Yes"], "padding": 0.6}, "axis": null},
       "y": {"field": "hi", "type": "quantitative", "scale": {"domain": [2779000, 6695000], "nice": false, "zero": false}, "axis": null}}}
    ]},
    {"width": 180, "height": 124, "layer": [
     {"data": {"name": "current"}, "transform": [{"filter": "datum.factor == 'Desirability'"}],
      "mark": {"type": "rule", "color": "#ff4058", "strokeWidth": 2, "strokeDash": [6, 5]},
      "encoding": {"x": {"field": "xmin", "type": "quantitative", "scale": {"domain": [-0.078, 1.205], "nice": false, "zero": false}, "axis": null}, "x2": {"field": "xmax"},
       "y": {"field": "energy", "type": "quantitative", "scale": {"domain": [2779000, 6695000], "nice": false, "zero": false}, "axis": null}}},
     {"data": {"name": "dfun"},
      "mark": {"type": "line", "color": "#1a1a1a", "strokeWidth": 1.6},
      "encoding": {"x": {"field": "d", "type": "quantitative", "scale": {"domain": [-0.078, 1.205], "nice": false, "zero": false}, "axis": null},
       "y": {"field": "energy", "type": "quantitative", "scale": {"domain": [2779000, 6695000], "nice": false, "zero": false}, "axis": null}}},
     {"data": {"name": "dfun"},
      "mark": {"type": "point", "shape": "square", "filled": false, "color": "#111111", "size": 36, "strokeWidth": 1.6, "opacity": 1},
      "encoding": {"x": {"field": "d", "type": "quantitative", "scale": {"domain": [-0.078, 1.205], "nice": false, "zero": false}, "axis": null},
       "y": {"field": "energy", "type": "quantitative", "scale": {"domain": [2779000, 6695000], "nice": false, "zero": false}, "axis": null}}}
    ]}
   ]},
   {"bounds": "flush", "spacing": 0, "hconcat": [
    {"width": 309, "height": 123, "view": {"stroke": null}, "data": {"name": "desirline"},
     "mark": {"type": "text", "align": "left", "baseline": "middle", "fontSize": 18, "dx": -94, "color": "#222222"},
     "encoding": {"text": {"field": "line"}}},
    {"width": 180, "height": 123, "resolve": {"axis": {"x": "independent", "y": "independent"}}, "layer": [
     {"data": {"name": "current"}, "transform": [{"filter": "datum.factor == 'Wall Insulation'"}],
      "mark": {"type": "rule", "color": "#ff4058", "strokeWidth": 2, "strokeDash": [6, 5]},
      "encoding": {"x": {"field": "xmin", "type": "quantitative", "scale": {"domain": [17.36, 21.26], "nice": false, "zero": false}, "axis": null}, "x2": {"field": "xmax"},
       "y": {"field": "desir", "type": "quantitative", "scale": {"domain": [-0.135, 1.145], "nice": false, "zero": false}, "axis": null}}},
     {"data": {"name": "current"}, "transform": [{"filter": "datum.factor == 'Wall Insulation'"}],
      "mark": {"type": "rule", "color": "#ff4058", "strokeWidth": 2, "strokeDash": [6, 5]},
      "encoding": {"x": {"field": "x", "type": "quantitative", "scale": {"domain": [17.36, 21.26], "nice": false, "zero": false},
        "axis": {"orient": "bottom", "ticks": false, "labels": false, "title": "19.315", "titleColor": "#f4475e", "titleY": 38.5}},
       "y": {"datum": -0.06, "type": "quantitative", "scale": {"domain": [-0.135, 1.145], "nice": false, "zero": false}, "axis": null}, "y2": {"datum": 1.04}}},
     {"data": {"name": "profile"}, "transform": [{"filter": "datum.factor == 'Wall Insulation'"}],
      "mark": {"type": "line", "color": "#1a1a1a", "strokeWidth": 1.6},
      "encoding": {"x": {"field": "x", "type": "quantitative", "scale": {"domain": [17.36, 21.26], "nice": false, "zero": false},
        "axis": {"orient": "bottom", "values": [18, 19, 20, 21], "labelExpr": "datum.value + ''", "title": ["Wall", "Insulation"], "titleAlign": "left", "titleX": 42, "titleY": 67}},
       "y": {"field": "desir", "type": "quantitative", "scale": {"domain": [-0.135, 1.145], "nice": false, "zero": false},
        "axis": {"orient": "left", "values": [0, 0.25, 0.5, 0.75, 1], "labelExpr": "datum.value + ''", "title": "Desirability", "titleX": -262, "titleY": 61.5}}}}
    ]},
    {"width": 180, "height": 123, "resolve": {"axis": {"x": "independent"}}, "layer": [
     {"data": {"name": "current"}, "transform": [{"filter": "datum.factor == 'Server Room'"}],
      "mark": {"type": "rule", "color": "#ff4058", "strokeWidth": 2, "strokeDash": [6, 5]},
      "encoding": {"y": {"field": "desir", "type": "quantitative", "scale": {"domain": [-0.135, 1.145], "nice": false, "zero": false}, "axis": null}}},
     {"data": {"name": "current"}, "transform": [{"filter": "datum.factor == 'Server Room'"}],
      "mark": {"type": "rule", "color": "#ff4058", "strokeWidth": 2, "strokeDash": [6, 5]},
      "encoding": {"x": {"field": "level", "type": "nominal", "scale": {"type": "point", "domain": ["Yes", "No"], "padding": 0.6},
        "axis": {"orient": "bottom", "ticks": false, "labels": false, "title": "Yes", "titleColor": "#f4475e", "titleY": 66}}}},
     {"data": {"name": "cat"}, "transform": [{"filter": "datum.factor == 'Server Room'"}],
      "mark": {"type": "line", "color": "#1a1a1a", "strokeWidth": 1.6},
      "encoding": {"x": {"field": "level", "type": "nominal", "scale": {"type": "point", "domain": ["Yes", "No"], "padding": 0.6},
        "axis": {"orient": "bottom", "labelExpr": "datum.value + ''", "title": ["Server Room"], "titleAlign": "left", "titleX": 30, "titleY": 95}},
       "y": {"field": "desir", "type": "quantitative", "scale": {"domain": [-0.135, 1.145], "nice": false, "zero": false}, "axis": null}}}
    ]},
    {"width": 180, "height": 123, "resolve": {"axis": {"x": "independent"}}, "layer": [
     {"data": {"name": "current"}, "transform": [{"filter": "datum.factor == 'Setback Control'"}],
      "mark": {"type": "rule", "color": "#ff4058", "strokeWidth": 2, "strokeDash": [6, 5]},
      "encoding": {"y": {"field": "desir", "type": "quantitative", "scale": {"domain": [-0.135, 1.145], "nice": false, "zero": false}, "axis": null}}},
     {"data": {"name": "current"}, "transform": [{"filter": "datum.factor == 'Setback Control'"}],
      "mark": {"type": "rule", "color": "#ff4058", "strokeWidth": 2, "strokeDash": [6, 5]},
      "encoding": {"x": {"field": "level", "type": "nominal", "scale": {"type": "point", "domain": ["No", "Yes"], "padding": 0.6},
        "axis": {"orient": "bottom", "ticks": false, "labels": false, "title": "No", "titleColor": "#f4475e", "titleY": 38.5}}}},
     {"data": {"name": "cat"}, "transform": [{"filter": "datum.factor == 'Setback Control'"}],
      "mark": {"type": "line", "color": "#1a1a1a", "strokeWidth": 1.6},
      "encoding": {"x": {"field": "level", "type": "nominal", "scale": {"type": "point", "domain": ["No", "Yes"], "padding": 0.6},
        "axis": {"orient": "bottom", "labelExpr": "datum.value + ''", "title": ["Setback", "Control"], "titleAlign": "left", "titleX": 51, "titleY": 67}},
       "y": {"field": "desir", "type": "quantitative", "scale": {"domain": [-0.135, 1.145], "nice": false, "zero": false}, "axis": null}}}
    ]},
    {"width": 180, "height": 123, "data": {"values": []},
     "mark": "point",
     "encoding": {"x": {"field": "d", "type": "quantitative", "scale": {"domain": [-0.078, 1.205], "nice": false, "zero": false},
       "axis": {"orient": "bottom", "values": [0, 0.25, 0.5, 0.75, 1], "labelExpr": "datum.value + ''", "title": ["Desirability"], "titleAlign": "left", "titleX": 29, "titleY": 95}},
      "y": {"field": "v", "type": "quantitative", "scale": {"domain": [-0.135, 1.145], "nice": false, "zero": false}, "axis": null}}}
   ]}
  ]}
 ]}
],
"config": {
 "font": "DejaVu Sans",
 "view": {"stroke": "#a9a9a9", "strokeWidth": 2},
 "axis": {"domain": false, "grid": false, "tickColor": "#9a9a9a", "tickWidth": 1.5, "labelColor": "#333333", "labelFont": "DejaVu Sans", "titleFont": "DejaVu Sans", "titleFontWeight": "normal", "titleColor": "#222222", "labelOverlap": false, "labelFlush": false},
 "axisX": {"labelAngle": 270, "labelFontSize": 14, "labelPadding": 3, "tickSize": 10, "titleFontSize": 18.5, "titleLineHeight": 28, "titleBaseline": "top"},
 "axisY": {"labelFontSize": 17, "labelPadding": 5, "tickSize": 10, "titleFontSize": 15, "titleAngle": 270, "titleBaseline": "alphabetic", "titleAlign": "center", "titleLineHeight": 34},
 "text": {"font": "DejaVu Sans"}
}
}
